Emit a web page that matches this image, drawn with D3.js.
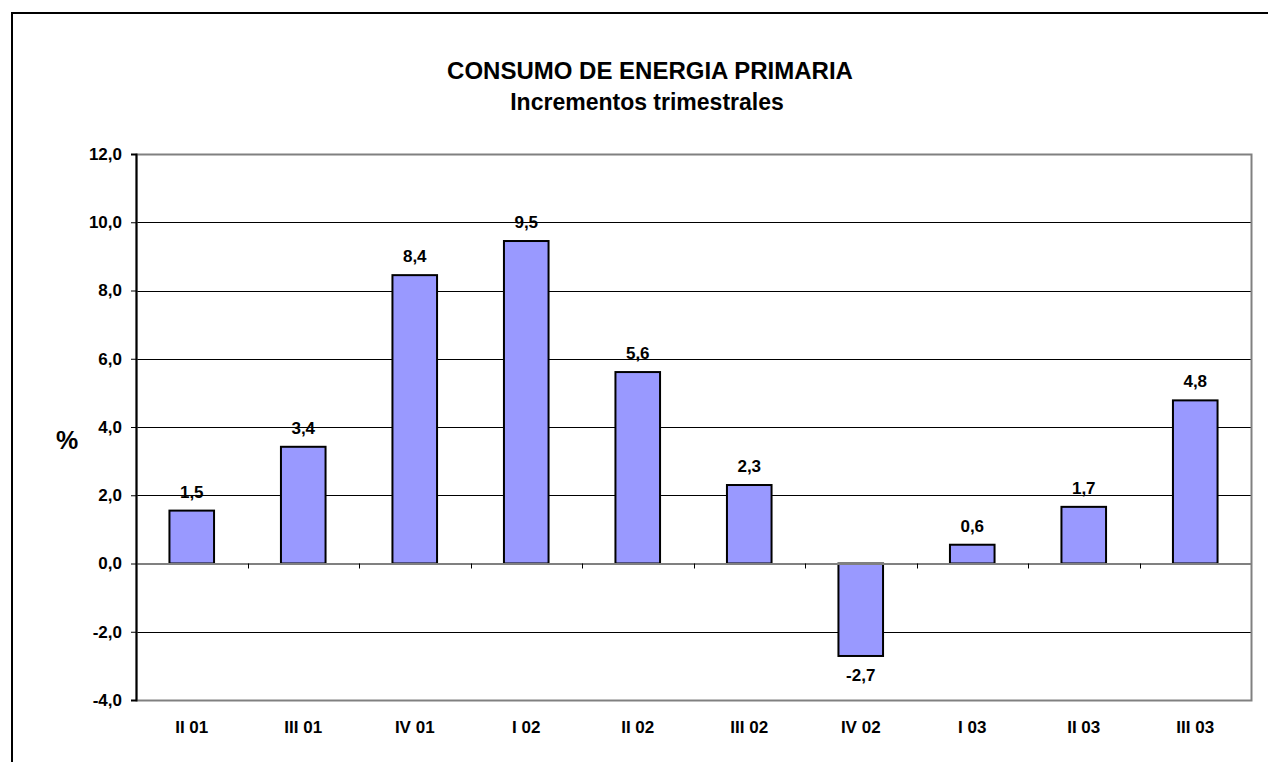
<!DOCTYPE html>
<html>
<head>
<meta charset="utf-8">
<script src="https://cdn.jsdelivr.net/npm/d3@7"></script>
<style>
  body { margin: 0; background: #fff; }
  svg text { font-family: "Liberation Sans", Arial, sans-serif; font-weight: bold; fill: #000; }
</style>
</head>
<body>
<div id="chart"></div>
<script>
// quarters
const categories = ["II 01", "III 01", "IV 01", "I 02", "II 02", "III 02", "IV 02", "I 03", "II 03", "III 03"];
// quarterly increments (%)
const values = [1.55, 3.42, 8.45, 9.45, 5.61, 2.3, -2.71, 0.55, 1.66, 4.78];
const labels = ["1,5", "3,4", "8,4", "9,5", "5,6", "2,3", "-2,7", "0,6", "1,7", "4,8"];
const yTicks = [-4, -2, 0, 2, 4, 6, 8, 10, 12];

const width = 1268, height = 762;
const margin = { top: 154, right: 17, bottom: 62, left: 136 };

const svg = d3.select("#chart").append("svg")
    .attr("width", width)
    .attr("height", height);

// outer frame
svg.append("rect")
    .attr("x", 12).attr("y", 13)
    .attr("width", 1290).attr("height", 800)
    .attr("fill", "none")
    .attr("stroke", "#000")
    .attr("stroke-width", 2);

const x = d3.scaleBand()
    .domain(categories)
    .range([margin.left, width - margin.right])
    .paddingInner(0.6)
    .paddingOuter(0.3);

const xBand = d3.scaleBand()
    .domain(categories)
    .range([margin.left, width - margin.right]);

const y = d3.scaleLinear()
    .domain([-4, 12])
    .range([height - margin.bottom, margin.top]);

// gridlines
svg.append("g")
    .selectAll("line")
    .data(yTicks.filter(d => d !== 0 && d !== 12 && d !== -4))
    .join("line")
    .attr("x1", margin.left).attr("x2", width - margin.right)
    .attr("y1", d => Math.round(y(d)) + 0.5).attr("y2", d => Math.round(y(d)) + 0.5)
    .attr("stroke", "#000");

// plot area border
svg.append("rect")
    .attr("x", margin.left + 0.5)
    .attr("y", margin.top + 0.5)
    .attr("width", width - margin.right - margin.left)
    .attr("height", height - margin.bottom - margin.top)
    .attr("fill", "none")
    .attr("stroke", "#808080")
    .attr("stroke-width", 2);

// bars
svg.append("g")
    .selectAll("rect")
    .data(values)
    .join("rect")
    .attr("x", (d, i) => x(categories[i]))
    .attr("width", x.bandwidth())
    .attr("y", d => y(Math.max(0, d)))
    .attr("height", d => Math.abs(y(d) - y(0)))
    .attr("fill", "#9999FF")
    .attr("stroke", "#000")
    .attr("stroke-width", 2);

// zero line with category ticks
const xAxis = svg.append("g")
    .attr("transform", `translate(0,${y(0)})`)
    .call(d3.axisBottom(xBand).tickSize(0).tickFormat(""));
xAxis.select(".domain").attr("stroke", "#808080").attr("stroke-width", 2);
svg.append("g")
    .selectAll("line")
    .data(categories.slice(1))
    .join("line")
    .attr("x1", d => Math.round(xBand(d)) + 0.5).attr("x2", d => Math.round(xBand(d)) + 0.5)
    .attr("y1", y(0)).attr("y2", y(0) + 5)
    .attr("stroke", "#000");

// category labels
svg.append("g")
    .selectAll("text")
    .data(categories)
    .join("text")
    .attr("x", d => xBand(d) + xBand.bandwidth() / 2)
    .attr("y", 733)
    .attr("text-anchor", "middle")
    .style("font-size", "17px")
    .text(d => d);

// y axis
const yAxis = svg.append("g")
    .attr("transform", `translate(${margin.left},0)`)
    .call(d3.axisLeft(y).tickValues(yTicks).tickSize(5).tickPadding(9)
        .tickFormat(d => d3.format(".1f")(d).replace(".", ",").replace("\u2212", "-")));
yAxis.select(".domain").attr("stroke", "#000").attr("stroke-width", 2);
yAxis.selectAll(".tick line").attr("stroke", "#000");
yAxis.selectAll(".tick text")
    .style("font-size", "17px")
    .style("font-family", "'Liberation Sans', Arial, sans-serif")
    .style("font-weight", "bold");

// value labels
svg.append("g")
    .selectAll("text")
    .data(values)
    .join("text")
    .attr("x", (d, i) => x(categories[i]) + x.bandwidth() / 2)
    .attr("y", d => d >= 0 ? y(d) - 13 : y(d) + 25)
    .attr("text-anchor", "middle")
    .style("font-size", "17px")
    .text((d, i) => labels[i]);

// axis title
svg.append("text")
    .attr("x", 67).attr("y", 449)
    .attr("text-anchor", "middle")
    .style("font-size", "25px")
    .text("%");

// titles
svg.append("text")
    .attr("x", 650).attr("y", 79)
    .attr("text-anchor", "middle")
    .style("font-size", "24px")
    .text("CONSUMO DE ENERGIA PRIMARIA");
svg.append("text")
    .attr("x", 647).attr("y", 110)
    .attr("text-anchor", "middle")
    .style("font-size", "23px")
    .text("Incrementos trimestrales");
</script>
</body>
</html>
